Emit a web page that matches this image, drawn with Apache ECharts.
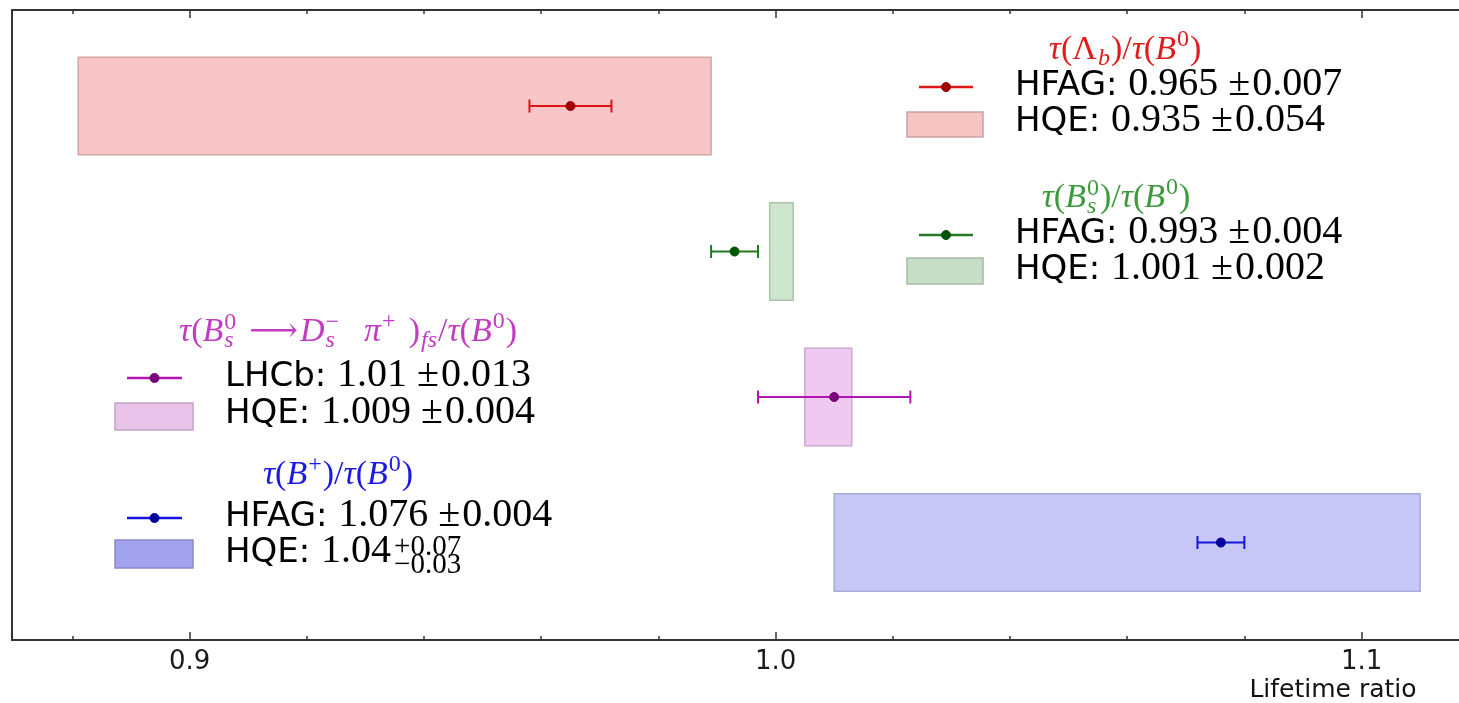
<!DOCTYPE html>
<html><head><meta charset="utf-8">
<script src="https://cdn.jsdelivr.net/npm/echarts@6/dist/echarts.min.js"></script>
<style>html,body{margin:0;padding:0;background:#fff}#c{width:1459px;height:703px}</style>
</head><body><div id="c"></div>
<script>
// ---------------- data ----------------
const rows = [4, 3, 2, 1];                       // vertical slot of each lifetime ratio
const measLabels = ['HFAG', 'HFAG', 'LHCb', 'HFAG'];
const measValues = [0.965, 0.993, 1.01, 1.076];
const measErrors = [0.007, 0.004, 0.013, 0.004];
const hqeLabel = 'HQE';
const hqeValues = [0.935, 1.001, 1.009, 1.04];
const hqeErrUp = [0.054, 0.002, 0.004, 0.07];
const hqeErrDown = [0.054, 0.002, 0.004, 0.03];
const xMajorTicks = [0.9, 1.0, 1.1];
const xTickLabels = ['0.9', '1.0', '1.1'];
const xMinorTicks = [0.88, 0.92, 0.94, 0.96, 0.98, 1.02, 1.04, 1.06, 1.08];
const xAxisName = 'Lifetime ratio';
// legend titles (math pieces): b = base [text, italic], sup/sub = scripts, st = stacked sup+sub, g = gap px
const ratioTitles = [
  [['b','τ',1],['b','(Λ',0],['sub','b',1],['b',')/',0],['b','τ',1],['b','(',0],['b','B',1],['sup','0',0],['b',')',0]],
  [['b','τ',1],['b','(',0],['b','B',1],['st','0','s'],['b',')/',0],['b','τ',1],['b','(',0],['b','B',1],['sup','0',0],['b',')',0]],
  [['b','τ',1],['b','(',0],['b','B',1],['st','0','s'],['g',12],['b','⟶',0],['g',2],['b','D',1],['st','−','s'],['g',24],['b','π',1],['sup','+',0],['g',12],['b',')',0],['sub','fs',1],['b','/',0],['b','τ',1],['b','(',0],['b','B',1],['sup','0',0],['b',')',0]],
  [['b','τ',1],['b','(',0],['b','B',1],['sup','+',0],['b',')/',0],['b','τ',1],['b','(',0],['b','B',1],['sup','0',0],['b',')',0]]
];

// ---------------- styles ----------------
const lineColors   = ['#dd1515', '#217a21', '#b414b4', '#1414dc'];
const markerColors = ['#a00000', '#005500', '#7a007a', '#00009a'];
const boxFill      = ['#f8c6c6', '#cde5cd', '#f0c9f0', '#c7c7f7'];
const boxStroke    = ['#d2a6a6', '#a9c4a9', '#cfa8cf', '#aaaad8'];
const patchFill    = ['#f7c4c4', '#c7dec7', '#e9c2ea', '#a2a2ee'];
const patchStroke  = ['#c9a3a3', '#a4bca4', '#c3a4c4', '#8a8ac6'];
const titleColors  = ['#e01c1c', '#3c9a3c', '#c23cc2', '#1a1ae4'];
const SERIF = '"Liberation Serif", "DejaVu Serif", serif';
const SANS = '"DejaVu Sans", sans-serif';
const AXC = '#333333';
const BOX_HALF = 0.335;

const mctx = document.createElement('canvas').getContext('2d');
function fnt(size, fam, it) { return (it ? 'italic ' : '') + size + 'px ' + fam; }
function tw(text, size, fam, it) { mctx.font = fnt(size, fam, it); return mctx.measureText(text).width; }
function txt(text, x, y, size, fam, it, color) {
  return { type: 'text', x: x, y: y, silent: true, z: 100,
    style: { text: text, font: fnt(size, fam, it), fill: color,
      align: 'left', textAlign: 'left', verticalAlign: 'middle', textVerticalAlign: 'middle' } };
}
// lays out math-like pieces left to right; returns {els, width}
function mathRow(pieces, x0, y, size, color, opts) {
  opts = opts || {};
  const out = []; let x = x0; const ss = Math.round(size * (opts.ss || 0.7));
  const by = opts.baseDy || 0;
  const supDy = opts.supDy != null ? opts.supDy : -0.3, subDy = opts.subDy != null ? opts.subDy : 0.27;
  const stSup = opts.stSup != null ? opts.stSup : -0.28, stSub = opts.stSub != null ? opts.stSub : 0.27;
  for (const p of pieces) {
    const kind = p[0];
    if (kind === 'g') { x += p[1]; }
    else if (kind === 'b') {
      const fam = p[3] || SERIF; const sz = p[4] || size;
      const dy = p[3] ? 0 : by;
      out.push(txt(p[1], x, y + dy, sz, fam, p[2], color)); x += tw(p[1], sz, fam, p[2]);
    } else if (kind === 'sup') {
      out.push(txt(p[1], x + 1, y + by + supDy * size, ss, SERIF, p[2], color)); x += tw(p[1], ss, SERIF, p[2]) + 2;
    } else if (kind === 'sub') {
      out.push(txt(p[1], x + 1, y + by + subDy * size, ss, SERIF, p[2], color)); x += tw(p[1], ss, SERIF, p[2]) + 2;
    } else if (kind === 'st') {
      const it2 = p[3] == null ? 1 : p[3];
      out.push(txt(p[1], x + 1, y + by + stSup * size, ss, SERIF, 0, color));
      out.push(txt(p[2], x + 1, y + by + stSub * size, ss, SERIF, it2, color));
      x += Math.max(tw(p[1], ss, SERIF, 0), tw(p[2], ss, SERIF, it2)) + 2;
    }
  }
  return { els: out, width: x - x0 };
}
function centered(pieces, cx, y, size, color, opts) {
  const w = mathRow(pieces, 0, y, size, color, opts).width;
  return mathRow(pieces, cx - w / 2, y, size, color, opts).els;
}

// ---------------- legends ----------------
const legendLayout = [
  { title: [1125, 50], sample: [919, 973], row1: 86, row2: 122, patch: [907, 112, 76, 25], text: 1015 },
  { title: [1116, 198], sample: [919, 973], row1: 234, row2: 270, patch: [907, 258, 76, 26], text: 1015 },
  { title: [348, 332], sample: [127, 182], row1: 377, row2: 414, patch: [115, 403, 78, 27], text: 225 },
  { title: [338, 475], sample: [127, 182], row1: 517, row2: 553, patch: [115, 540, 78, 28], text: 225 }
];
const TITLE_SIZE = 34, SANS_SIZE = 34, NUM_SIZE = 40;
function valuePieces(label, v, e) {
  return [['b', label + ': ', 0, SANS, SANS_SIZE], ['b', String(v), 0], ['g', 10], ['b', '±', 0], ['g', 2], ['b', String(e), 0]];
}
const graphics = [];
legendLayout.forEach(function (L, i) {
  graphics.push.apply(graphics, centered(ratioTitles[i], L.title[0], L.title[1], TITLE_SIZE, titleColors[i]));
  // measurement sample
  graphics.push({ type: 'line', silent: true, z: 100, shape: { x1: L.sample[0], y1: L.row1 + 1, x2: L.sample[1], y2: L.row1 + 1 },
    style: { stroke: lineColors[i], lineWidth: 2.5 } });
  graphics.push({ type: 'circle', silent: true, z: 101, shape: { cx: (L.sample[0] + L.sample[1]) / 2, cy: L.row1 + 1, r: 4.5 },
    style: { fill: markerColors[i], stroke: markerColors[i], lineWidth: 1 } });
  graphics.push.apply(graphics, mathRow(valuePieces(measLabels[i], measValues[i], measErrors[i]), L.text, L.row1, NUM_SIZE, '#000', { baseDy: -2 }).els);
  // HQE patch
  graphics.push({ type: 'rect', silent: true, z: 100, shape: { x: L.patch[0], y: L.patch[1], width: L.patch[2], height: L.patch[3] },
    style: { fill: patchFill[i], stroke: patchStroke[i], lineWidth: 1.5 } });
  let hq;
  if (hqeErrUp[i] === hqeErrDown[i]) {
    hq = valuePieces(hqeLabel, hqeValues[i], hqeErrUp[i]);
  } else {
    hq = [['b', hqeLabel + ': ', 0, SANS, SANS_SIZE], ['b', String(hqeValues[i]), 0], ['g', 2],
      ['st', '+' + String(hqeErrUp[i]), '−' + String(hqeErrDown[i]), 0]];
  }
  graphics.push.apply(graphics, mathRow(hq, L.text, L.row2, NUM_SIZE, '#000', { baseDy: -2, stSup: -0.1, stSub: 0.36, ss: 0.72 }).els);
});
graphics.push({ type: 'text', x: 1333, y: 690, silent: true,
  style: { text: xAxisName, font: fnt(25, SANS, 0), fill: '#111', align: 'center', textAlign: 'center', verticalAlign: 'middle', textVerticalAlign: 'middle' } });

// ---------------- chart ----------------
const X_MIN = 0.8697, X_MAX = 1.1197;
function xAx(pos, ticks, len, withLine, withLabel) {
  return {
    type: 'value', position: pos, min: X_MIN, max: X_MAX,
    axisLine: { show: withLine, onZero: false, lineStyle: { color: AXC, width: 2 } },
    axisTick: { show: true, inside: true, length: len, customValues: ticks, lineStyle: { color: AXC, width: 1.5 } },
    axisLabel: withLabel ? {
      show: true, customValues: xMajorTicks, margin: 9, color: '#1a1a1a', fontFamily: SANS, fontSize: 26,
      formatter: function (v) { const k = xMajorTicks.findIndex(function (t) { return Math.abs(t - v) < 1e-9; }); return k >= 0 ? xTickLabels[k] : ''; }
    } : { show: false },
    splitLine: { show: false }, minorTick: { show: false }
  };
}
const chart = echarts.init(document.getElementById('c'), null, { renderer: 'canvas' });
chart.setOption({
  animation: false,
  backgroundColor: '#ffffff',
  grid: { left: 12, top: 10, width: 1465, height: 630, containLabel: false, outerBoundsMode: 'none' },
  xAxis: [
    xAx('bottom', xMajorTicks, 8, true, true),
    xAx('bottom', xMinorTicks, 4, false, false),
    xAx('top', xMajorTicks, 8, true, false),
    xAx('top', xMinorTicks, 4, false, false)
  ],
  yAxis: { type: 'value', min: 0.33, max: 4.66, axisLine: { show: true, onZero: false, lineStyle: { color: AXC, width: 2 } },
    axisTick: { show: false }, axisLabel: { show: false }, splitLine: { show: false } },
  series: [
    {
      type: 'custom', name: 'HQE', silent: true, z: 2, clip: false,
      data: rows.map(function (r, i) { return [hqeValues[i] - hqeErrDown[i], hqeValues[i] + hqeErrUp[i], r, i]; }),
      encode: { x: [0, 1], y: 2 },
      renderItem: function (params, api) {
        const i = api.value(3), r = api.value(2);
        const p1 = api.coord([api.value(0), r + BOX_HALF]);
        const p2 = api.coord([api.value(1), r - BOX_HALF]);
        return { type: 'rect', shape: { x: p1[0], y: p1[1], width: p2[0] - p1[0], height: p2[1] - p1[1] },
          style: { fill: boxFill[i], stroke: boxStroke[i], lineWidth: 1.5 } };
      }
    },
    {
      type: 'custom', name: 'Measurement', silent: true, z: 3, clip: false,
      data: rows.map(function (r, i) { return [measValues[i], measValues[i] - measErrors[i], measValues[i] + measErrors[i], r, i]; }),
      encode: { x: [0, 1, 2], y: 3 },
      renderItem: function (params, api) {
        const i = api.value(4), r = api.value(3);
        const c = api.coord([api.value(0), r]), lo = api.coord([api.value(1), r]), hi = api.coord([api.value(2), r]);
        const st = { stroke: lineColors[i], lineWidth: 2 };
        return { type: 'group', children: [
          { type: 'line', shape: { x1: lo[0], y1: c[1], x2: hi[0], y2: c[1] }, style: st },
          { type: 'line', shape: { x1: lo[0], y1: c[1] - 6.5, x2: lo[0], y2: c[1] + 6.5 }, style: st },
          { type: 'line', shape: { x1: hi[0], y1: c[1] - 6.5, x2: hi[0], y2: c[1] + 6.5 }, style: st },
          { type: 'circle', shape: { cx: c[0], cy: c[1], r: 4.5 }, style: { fill: markerColors[i], stroke: markerColors[i], lineWidth: 1 } }
        ] };
      }
    }
  ],
  graphic: graphics
});
</script></body></html>
